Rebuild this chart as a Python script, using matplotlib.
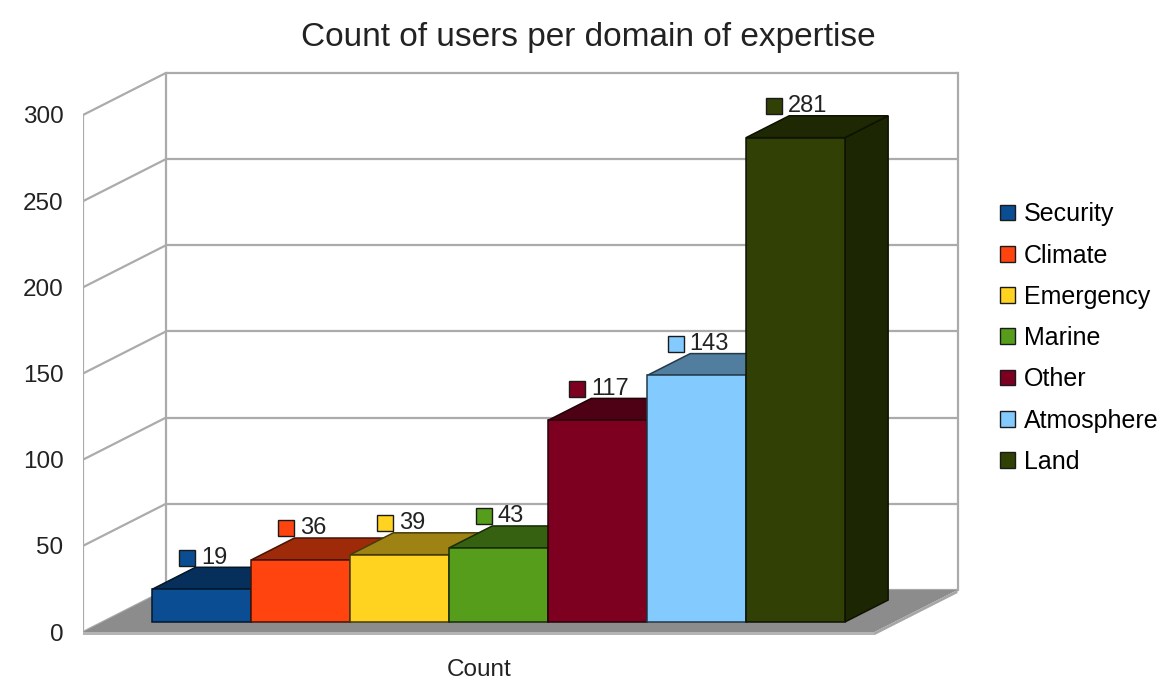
import matplotlib
matplotlib.use("Agg")
import matplotlib.pyplot as plt
import matplotlib.transforms as mtransforms
from matplotlib.colors import to_rgb
from matplotlib.patches import Polygon, Patch, Rectangle
from matplotlib.offsetbox import AnnotationBbox, DrawingArea, HPacker, TextArea

plt.rcParams['font.family'] = ['Liberation Sans', 'DejaVu Sans']

domains = ['Security', 'Climate', 'Emergency', 'Marine', 'Other', 'Atmosphere', 'Land']
counts = [19, 36, 39, 43, 117, 143, 281]
colors = ['#0a4d92', '#ff440f', '#ffd320', '#579d1c', '#7e0021', '#83caff', '#314004']
y_ticks = [0, 50, 100, 150, 200, 250, 300]

# oblique "3D" projection: depth d in [0, 1] shifts right and up
DX = 0.838
DV = 24.4
D_FRONT, D_BACK = 0.24, 0.76
X_LEFT, X_RIGHT = -0.5, 7.5
GRID = '#ababab'


def proj(x, v, d):
    return (x + d * DX, v + d * DV)


def shade(c, k):
    r, g, b = to_rgb(c)
    return (r * k, g * k, b * k)


def face(pts, **kw):
    return Polygon([proj(*p) for p in pts], closed=True, **kw)


fig = plt.figure(figsize=(11.63, 6.87), dpi=100)
ax = fig.add_axes([0.07137, 0.06114, 0.767, 0.8515])
ax.set_xlim(-0.5, 8.515)
ax.set_ylim(-7.54, 331.9)
ax.patch.set_visible(False)

top_v = y_ticks[-1]

# walls
ax.add_patch(face([(X_LEFT, 0, 1), (X_RIGHT, 0, 1), (X_RIGHT, top_v, 1), (X_LEFT, top_v, 1)],
                  facecolor='white', edgecolor='none', zorder=1))
for v in y_ticks:
    x0, y0 = proj(X_LEFT, v, 1)
    x1, y1 = proj(X_RIGHT, v, 1)
    ax.plot([x0, x1], [y0, y1], color=GRID, lw=1.6, zorder=1.1, solid_capstyle='butt')
    x2, y2 = proj(X_LEFT, v, 0)
    ax.plot([x2, x0], [y2, y0], color=GRID, lw=1.6, zorder=1.1, solid_capstyle='butt')
for x, d in [(X_LEFT, 0), (X_LEFT, 1), (X_RIGHT, 1)]:
    xa, ya = proj(x, 0, d)
    xb, yb = proj(x, top_v, d)
    ax.plot([xa, xb], [ya, yb], color=GRID, lw=1.6, zorder=1.1)

# floor slab
slab = 1.8
ax.add_patch(face([(X_LEFT, 0, 0), (X_RIGHT, 0, 0), (X_RIGHT, 0, 1), (X_LEFT, 0, 1)],
                  facecolor='#8c8c8c', edgecolor='none', zorder=2))
ax.add_patch(face([(X_LEFT, 0, 0), (X_RIGHT, 0, 0), (X_RIGHT, -slab, 0), (X_LEFT, -slab, 0)],
                  facecolor='#b4b4b4', edgecolor='none', zorder=2))
ax.add_patch(face([(X_RIGHT, 0, 0), (X_RIGHT, 0, 1), (X_RIGHT, -slab, 1), (X_RIGHT, -slab, 0)],
                  facecolor='#a6a6a6', edgecolor='none', zorder=2))

# bars: front faces via ax.bar, tops and sides as polygons
for i, (v, c) in enumerate(zip(counts, colors)):
    z = 3 + i * 0.1
    edge = shade(c, 0.28)
    ax.add_patch(face([(i + 1, 0, D_FRONT), (i + 1, 0, D_BACK), (i + 1, v, D_BACK), (i + 1, v, D_FRONT)],
                      facecolor=shade(c, 0.6), edgecolor=edge, lw=1.1, zorder=z))
    ax.add_patch(face([(i, v, D_FRONT), (i + 1, v, D_FRONT), (i + 1, v, D_BACK), (i, v, D_BACK)],
                      facecolor=shade(c, 0.62), edgecolor=edge, lw=1.1, zorder=z))
    ax.bar(i + D_FRONT * DX, v, width=1, bottom=D_FRONT * DV, align='edge',
           color=c, edgecolor=edge, lw=1.1, zorder=z + 0.05)

    # value label: coloured square + number
    sq = DrawingArea(11.5, 11.5, 0, 0)
    sq.add_artist(Rectangle((0, 0), 11.5, 11.5, facecolor=c, edgecolor='#1a1a1a', lw=1.0))
    txt = TextArea(str(v), textprops=dict(fontsize=17, color='#222222'))
    box = HPacker(children=[sq, txt], align='center', pad=0, sep=4)
    lx, ly = proj(i + 0.5, v, D_BACK)
    ab = AnnotationBbox(box, (lx - (D_BACK - D_FRONT) * DX, ly), xybox=(1, 7),
                        xycoords='data', boxcoords='offset points',
                        box_alignment=(0.5, 0.5), frameon=False, zorder=10)
    ax.add_artist(ab)

# axes text
ax.set_yticks(y_ticks)
ax.tick_params(axis='y', length=0, pad=14, labelsize=17.5, labelcolor='#222222')
ax.set_xticks([])
for s in ax.spines.values():
    s.set_visible(False)

ax.set_xlabel('Count', fontsize=17.5, color='#222222')
ax.xaxis.set_label_coords((X_LEFT + X_RIGHT) / 2, -0.043,
                          transform=mtransforms.blended_transform_factory(ax.transData, ax.transAxes))
ax.xaxis.label.set_va('center')

fig.text(588 / 1163, 1 - 46 / 687, 'Count of users per domain of expertise',
         ha='center', va='baseline', fontsize=24, color='#222222')

handles = [Patch(facecolor=c, edgecolor='#1a1a1a', lw=1.0) for c in colors]
fig.legend(handles, domains, loc='center left', bbox_to_anchor=(1000 / 1163, 0.508),
           frameon=False, fontsize=18, handlelength=0.6, handleheight=0.6,
           handletextpad=0.35, labelspacing=0.69, borderpad=0, borderaxespad=0)

fig.savefig('out.png', dpi=100)
